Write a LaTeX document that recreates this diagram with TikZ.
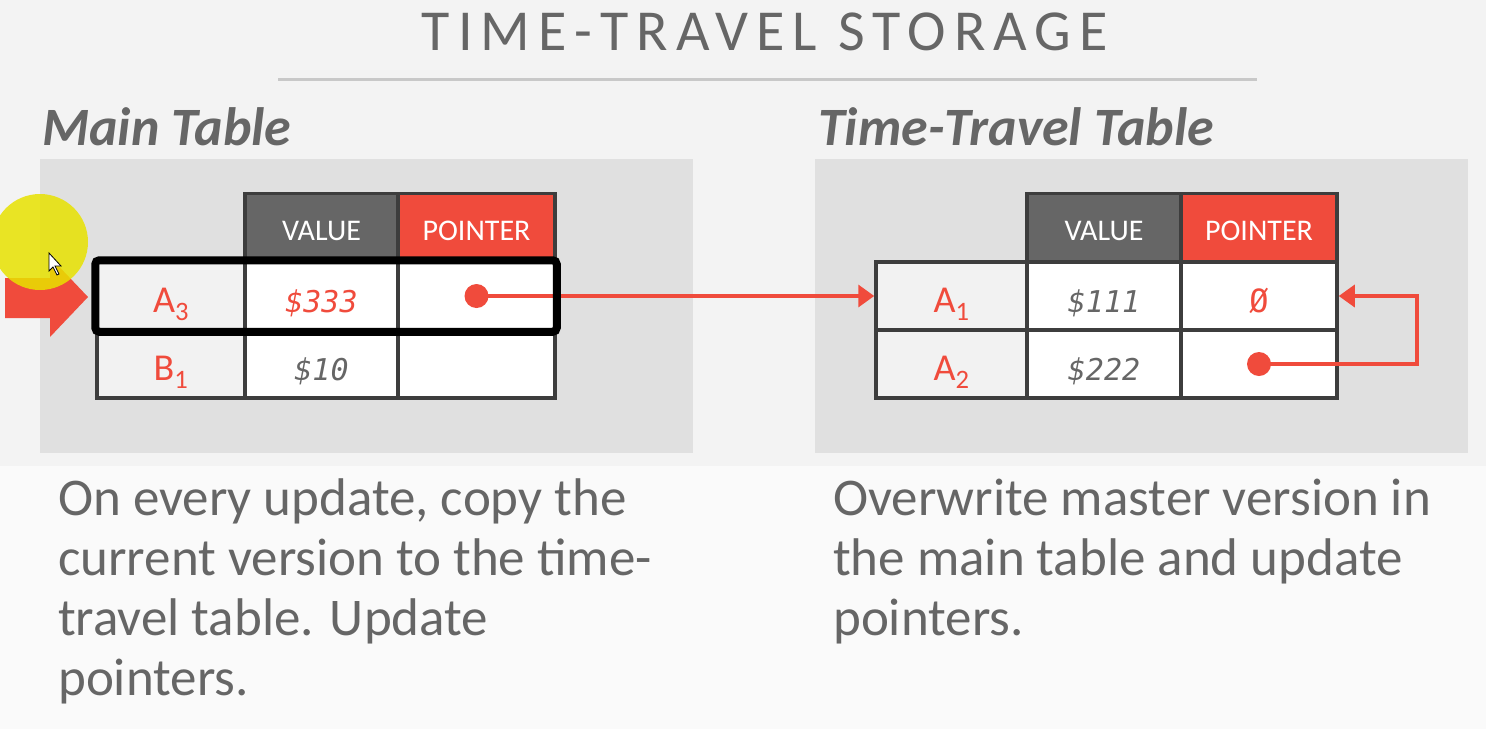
\documentclass[tikz,border=0pt]{standalone}
\usepackage{fontspec}
\setmainfont{Carlito}
\newfontfamily\titlefont[LetterSpace=14]{Carlito}
\newfontfamily\cellmono{DejaVu Sans Mono}
\usepackage{tikz}
\usetikzlibrary{positioning,arrows.meta,fit}

\definecolor{slidebg}{HTML}{F3F3F3}
\definecolor{panelgray}{HTML}{E0E0E0}
\definecolor{rulegray}{HTML}{C8C8C8}
\definecolor{textgray}{HTML}{666666}
\definecolor{headgray}{HTML}{666666}
\definecolor{cmured}{HTML}{F04B3C}
\definecolor{gridline}{HTML}{3D3D3D}
\definecolor{keyfill}{HTML}{F2F2F2}
\definecolor{hiyellow}{HTML}{E8E200}

\tikzset{
  cell/.style={draw=gridline, line width=3.5pt, minimum height=68pt, inner sep=0pt,
    text depth=0pt, text height=32pt},
  headcell/.style={cell, fill=headgray, text=white, text height=25pt,
    font=\fontsize{30}{32}\selectfont},
  ptrhead/.style={headcell, fill=cmured},
  keycell/.style={cell, fill=keyfill, text=cmured, font=\fontsize{38}{40}\selectfont},
  valcell/.style={cell, fill=white, text=textgray, font=\cellmono\itshape\fontsize{30}{32}\selectfont},
  ptrcell/.style={cell, fill=white, text=cmured, font=\cellmono\fontsize{32}{34}\selectfont},
  dot/.style={circle, fill=cmured, inner sep=0pt, minimum size=24pt},
  ptr/.style={draw=cmured, line width=3.5pt, -{Triangle[length=16pt,width=22pt]}},
  heading/.style={text=textgray, font=\bfseries\itshape\fontsize{54}{60}\selectfont, inner sep=0pt},
  body/.style={text=textgray, font=\fontsize{53}{60}\selectfont, align=left, inner sep=0pt},
}

\begin{document}
\begin{tikzpicture}[x=1pt,y=-1pt]
  \useasboundingbox[fill=slidebg] (0,0) rectangle (1486,729);
  \fill[white!55!slidebg] (0,466) rectangle (1486,729);

  % title and rule
  \node[text=textgray, font=\titlefont\fontsize{58}{60}\selectfont, anchor=base]
    (title) at (765,50) {TIME-TRAVEL STORAGE};
  \draw[rulegray, line width=3pt] (278,79) -- (1257,79);

  % panel headings
  \node[heading, anchor=base west] (mainhd) at (42,145) {Main Table};
  \node[heading, anchor=base west] (tthd) at (818,145) {Time-Travel Table};

  \fill[panelgray] (40,159) rectangle (693,453);
  \fill[panelgray] (815,159) rectangle (1468,453);

  % main table
  \node[headcell, minimum width=153pt] (mV0) at (321.5,227.5) {VALUE};
  \node[ptrhead, minimum width=157pt]  (mP0) at (476.5,227.5) {POINTER};
  \node[keycell, minimum width=148pt] (mK1) at (171,296) {A\textsubscript{3}};
  \node[valcell, minimum width=153pt, text=cmured] (mV1) at (321.5,296) {\$333};
  \node[ptrcell, minimum width=157pt] (mP1) at (476.5,296) {};
  \node[keycell, minimum width=148pt] (mK2) at (171,364) {B\textsubscript{1}};
  \node[valcell, minimum width=153pt] (mV2) at (321.5,364) {\$10};
  \node[ptrcell, minimum width=157pt] (mP2) at (476.5,364) {};

  % time-travel table
  \node[headcell, minimum width=154pt] (tV0) at (1104,227.5) {VALUE};
  \node[ptrhead, minimum width=156pt]  (tP0) at (1259,227.5) {POINTER};
  \node[keycell, minimum width=151pt] (tK1) at (951.5,296) {A\textsubscript{1}};
  \node[valcell, minimum width=154pt] (tV1) at (1104,296) {\$111};
  \node[ptrcell, minimum width=156pt] (tP1) at (1259,296) {Ø};
  \node[keycell, minimum width=151pt] (tK2) at (951.5,364) {A\textsubscript{2}};
  \node[valcell, minimum width=154pt] (tV2) at (1104,364) {\$222};
  \node[ptrcell, minimum width=156pt] (tP2) at (1259,364) {};

  % pointers
  \node[dot] (mdot) at (mP1.center) {};
  \node[dot] (tdot) at (tP2.center) {};
  \coordinate (loop) at (1417,0);
  \draw[ptr] (mdot.center) -- (tK1.west);
  \draw[ptr] (tdot.center) -- (tdot -| loop) |- (tP1.east);

  % current row
  \node[draw=black, line width=8pt, rounded corners=4pt, inner sep=0pt,
    fit=(mK1)(mP1)] (sel) {};
  \fill[cmured] (5,278) -- (50,278) -- (50,257) -- (88,297) -- (50,337)
    -- (50,318) -- (5,318) -- cycle;
  \fill[hiyellow, opacity=0.85] (40,242) circle (48);
  \draw[fill=white, line width=0.8pt] (49,253) -- (49,271) -- (53,267)
    -- (57,275) -- (59,274) -- (55,266) -- (61,266) -- cycle;

  % notes (base = last line)
  \node[body, anchor=base west] (mainnote) at (58,695)
    {On every update, copy the\\current version to the time-\\travel table. Update\\pointers.};
  \node[body, anchor=base west] (ttnote) at (833,635)
    {Overwrite master version in\\the main table and update\\pointers.};
\end{tikzpicture}
\end{document}
